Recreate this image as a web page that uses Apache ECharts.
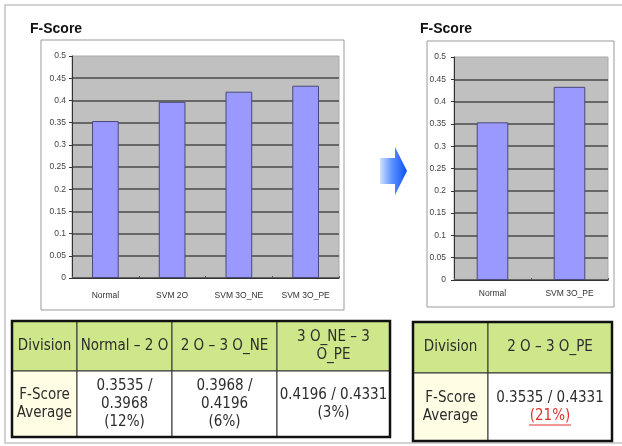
<!DOCTYPE html>
<html>
<head>
<meta charset="utf-8">
<style>
  html, body { margin: 0; padding: 0; background: #ffffff; }
  #chart { width: 622px; height: 446px; }
</style>
<script src="https://cdn.jsdelivr.net/npm/echarts@6/dist/echarts.min.js"></script>
</head>
<body>
<div id="chart"></div>
<script>
// F-Score by classifier (left) and the before/after comparison (right)
const categoriesA = ['Normal', 'SVM 2O', 'SVM 3O_NE', 'SVM 3O_PE'];
const scoresA = [0.3535, 0.3968, 0.4196, 0.4331];
const categoriesB = ['Normal', 'SVM 3O_PE'];
const scoresB = [0.3535, 0.4331];

// Value-axis range shared by both charts
const yMin = 0;
const yMax = 0.5;
const yStep = 0.05;

// Summary tables
const tableAHeader = ['Division', 'Normal – 2 O', '2 O – 3 O_NE', '3 O_NE – 3\nO_PE'];
const tableAGains = ['12%', '6%', '3%'];
const tableBHeader = ['Division', '2 O – 3 O_PE'];
const tableBGains = ['21%'];
const rowLabel = 'F-Score\nAverage';

const f4 = v => v.toFixed(4);
const tableARow = [
  rowLabel,
  f4(scoresA[0]) + ' /\n' + f4(scoresA[1]) + '\n(' + tableAGains[0] + ')',
  f4(scoresA[1]) + ' /\n' + f4(scoresA[2]) + '\n(' + tableAGains[1] + ')',
  f4(scoresA[2]) + ' / ' + f4(scoresA[3]) + '\n(' + tableAGains[2] + ')'
];
const tableBRow = [
  rowLabel,
  f4(scoresB[0]) + ' / ' + f4(scoresB[1]) + '\n{gain|(' + tableBGains[0] + ')}'
];

const TEXT_FONT = '"DejaVu Sans Condensed", "DejaVu Sans", sans-serif';
const AXIS_FONT = '"Liberation Sans", Arial, sans-serif';
const CELL_FONT = '15px ' + TEXT_FONT;

function buildTable(xs, ys, header, row) {
  const els = [];
  const rows = [header, row];
  for (let r = 0; r < 2; r++) {
    for (let c = 0; c < xs.length - 1; c++) {
      const x = xs[c], y = ys[r], w = xs[c + 1] - xs[c], h = ys[r + 1] - ys[r];
      const fill = r === 0 ? '#cde78a' : (c === 0 ? '#fffde4' : '#ffffff');
      els.push({
        type: 'rect', z: 1,
        shape: { x: x, y: y, width: w, height: h },
        style: { fill: fill, stroke: '#333333', lineWidth: 1 }
      });
      els.push({
        type: 'text', z: 3,
        x: x + w / 2, y: y + h / 2,
        style: {
          text: rows[r][c],
          align: 'center', verticalAlign: 'middle',
          font: CELL_FONT,
          fill: '#2c2c2c', lineHeight: 18,
          rich: {
            gain: { fill: '#e0302c', font: CELL_FONT, lineHeight: 18 }
          }
        }
      });
    }
  }
  els.push({
    type: 'rect', z: 2,
    shape: { x: xs[0], y: ys[0], width: xs[xs.length - 1] - xs[0], height: ys[2] - ys[0] },
    style: { fill: 'none', stroke: '#111111', lineWidth: 2.5 }
  });
  return els;
}

function valueAxis(gridIndex, margin) {
  return {
    type: 'value', gridIndex: gridIndex,
    min: yMin, max: yMax, interval: yStep,
    axisLine: { show: true, lineStyle: { color: '#333333', width: 1 } },
    axisTick: { show: true, length: 3, lineStyle: { color: '#333333' } },
    axisLabel: {
      margin: margin, color: '#444444', fontSize: 8.5, fontFamily: AXIS_FONT,
      formatter: v => String(+v.toFixed(2))
    },
    splitLine: { show: true, showMaxLine: false, lineStyle: { color: '#4a4a4a', width: 1.5 } }
  };
}

function categoryAxis(gridIndex, data, margin) {
  return {
    type: 'category', gridIndex: gridIndex, data: data,
    axisLine: { show: true, lineStyle: { color: '#333333', width: 1 } },
    axisTick: { show: true, length: 2, inside: true, lineStyle: { color: '#555555' } },
    axisLabel: { margin: margin, color: '#333333', fontSize: 8.5, fontFamily: AXIS_FONT }
  };
}

const barStyle = { color: '#9999ff', borderColor: '#4a4a7a', borderWidth: 1 };
const titleStyle = { fontSize: 14, fontWeight: 'bold', color: '#111111', fontFamily: AXIS_FONT };

const chart = echarts.init(document.getElementById('chart'), null, { renderer: 'canvas' });

chart.setOption({
  backgroundColor: '#ffffff',
  animation: false,
  title: [
    { text: 'F-Score', left: 30, top: 22, padding: 0, textStyle: titleStyle },
    { text: 'F-Score', left: 420, top: 22, padding: 0, textStyle: titleStyle }
  ],
  grid: [
    { left: 72, top: 56, width: 267, height: 222, show: true,
      backgroundColor: '#c0c0c0', borderColor: '#aaaaaa', borderWidth: 1 },
    { left: 454, top: 57, width: 154, height: 223, show: true,
      backgroundColor: '#c0c0c0', borderColor: '#aaaaaa', borderWidth: 1 }
  ],
  xAxis: [categoryAxis(0, categoriesA, 13), categoryAxis(1, categoriesB, 9)],
  yAxis: [valueAxis(0, 6), valueAxis(1, 8)],
  series: [
    { type: 'bar', xAxisIndex: 0, yAxisIndex: 0, data: scoresA, barWidth: '40%', itemStyle: barStyle },
    { type: 'bar', xAxisIndex: 1, yAxisIndex: 1, data: scoresB, barWidth: '41%', itemStyle: barStyle }
  ],
  graphic: {
    elements: [
      // page frame
      { type: 'rect', z: -20, shape: { x: 5, y: 5, width: 700, height: 438 },
        style: { fill: '#ffffff', stroke: '#c4c4c4', lineWidth: 1.5 } },
      // chart boxes
      { type: 'rect', z: -10, shape: { x: 41, y: 40, width: 303, height: 270 },
        style: { fill: '#ffffff', stroke: '#9a9a9a', lineWidth: 1 } },
      { type: 'rect', z: -10, shape: { x: 427, y: 41, width: 187, height: 266 },
        style: { fill: '#ffffff', stroke: '#9a9a9a', lineWidth: 1 } },
      // transition arrow
      { type: 'polygon', z: 1,
        shape: { points: [[380, 158], [395, 158], [395, 147], [407, 171], [395, 195], [395, 184], [380, 184]] },
        style: {
          fill: new echarts.graphic.LinearGradient(0, 0, 1, 0, [
            { offset: 0, color: '#cfe0ff' },
            { offset: 0.45, color: '#5b92ff' },
            { offset: 1, color: '#0a4ff0' }
          ])
        } },
      // underline under the highlighted gain
      { type: 'line', z: 4, shape: { x1: 529, y1: 425, x2: 571, y2: 425 },
        style: { stroke: '#e0302c', lineWidth: 1 } }
    ]
    .concat(buildTable([12, 77, 172, 277, 390], [321, 371, 437], tableAHeader, tableARow))
    .concat(buildTable([413, 488, 612], [322, 373, 441], tableBHeader, tableBRow))
  }
});
</script>
</body>
</html>
